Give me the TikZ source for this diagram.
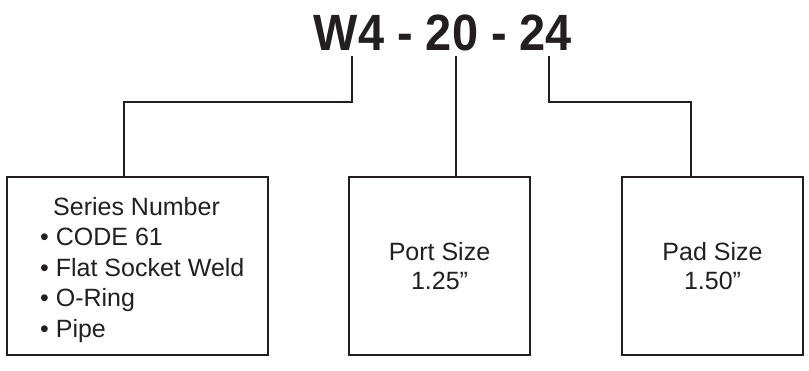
\documentclass[tikz,border=0pt]{standalone}
\usepackage{fontspec}
\usepackage{graphicx}
\setmainfont{Liberation Sans}
\definecolor{ink}{HTML}{231F20}
\begin{document}
\begin{tikzpicture}[x=1pt,y=-1pt,
  every node/.style={text=ink},
  box/.style={draw=ink, line width=2.2pt, minimum height=178pt, inner sep=0pt},
  conn/.style={draw=ink, line width=2.2pt},
  boxtext/.style={font=\fontsize{25}{29.5}\selectfont, align=center}]
\useasboundingbox (0,0) rectangle (809,370);
\node[anchor=base, inner sep=0pt, font=\bfseries\fontsize{51}{51}\selectfont] (title) at (443,50)
  {\scalebox{0.92}[1]{W4 - 20 - 24}};
\coordinate (cW) at (352,56);
\coordinate (c20) at (456,56);
\coordinate (c24) at (549,56);
\node[box, minimum width=261pt] (b1) at (137.5,266) {};
\node[box, minimum width=181pt, boxtext] (b2) at (439.5,266) {Port Size\\1.25”};
\node[box, minimum width=181pt, boxtext] (b3) at (712.5,266) {Pad Size\\1.50”};
\node[anchor=base west, inner sep=0pt, align=left, font=\fontsize{25}{30.5}\selectfont] (list) at (40,337)
  {\hspace*{13pt}Series Number\\• CODE 61\\• Flat Socket Weld\\• O-Ring\\• Pipe};
\draw[conn] (cW) -- ++(0,46) -| ([xshift=-13.5pt]b1.north);
\draw[conn] (c20) -- (c20 |- b2.north);
\draw[conn] (c24) -- ++(0,46) -| ([xshift=-21.5pt]b3.north);
\end{tikzpicture}
\end{document}
